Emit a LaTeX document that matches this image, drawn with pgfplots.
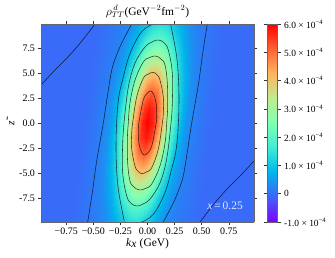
\documentclass[border=0pt]{standalone}
\usepackage{pgfplots}
\pgfplotsset{compat=1.18}
\usepackage{fontspec}
\setmainfont{Liberation Serif}
\pgfplotstableread{
k z c
-1.426 -10.5 0
-0.926 -10.5 -0.03
-0.726 -10.5 -0.03
-0.626 -10.5 0.05
-0.526 -10.5 0.13
-0.476 -10.5 0.17
-0.426 -10.5 0.25
-0.376 -10.5 0.37
-0.326 -10.5 0.53
-0.276 -10.5 0.73
-0.226 -10.5 0.93
-0.176 -10.5 1.09
-0.126 -10.5 1.14
-0.076 -10.5 1.09
-0.026 -10.5 0.93
0.024 -10.5 0.73
0.074 -10.5 0.53
0.124 -10.5 0.37
0.174 -10.5 0.25
0.224 -10.5 0.17
0.274 -10.5 0.13
0.374 -10.5 0.05
0.474 -10.5 -0.03
0.674 -10.5 -0.03
1.174 -10.5 0
-1.408 -9 0
-0.908 -9 -0.03
-0.708 -9 -0.03
-0.608 -9 0.05
-0.508 -9 0.14
-0.458 -9 0.21
-0.408 -9 0.33
-0.358 -9 0.51
-0.308 -9 0.77
-0.258 -9 1.09
-0.208 -9 1.41
-0.158 -9 1.65
-0.108 -9 1.74
-0.058 -9 1.65
-0.008 -9 1.41
0.042 -9 1.09
0.092 -9 0.77
0.142 -9 0.51
0.192 -9 0.33
0.242 -9 0.21
0.292 -9 0.14
0.392 -9 0.05
0.492 -9 -0.03
0.692 -9 -0.03
1.192 -9 0
-1.39 -7.5 0
-0.89 -7.5 -0.03
-0.69 -7.5 -0.03
-0.59 -7.5 0.06
-0.49 -7.5 0.16
-0.44 -7.5 0.26
-0.39 -7.5 0.42
-0.34 -7.5 0.70
-0.29 -7.5 1.08
-0.24 -7.5 1.56
-0.19 -7.5 2.02
-0.14 -7.5 2.38
-0.09 -7.5 2.51
-0.04 -7.5 2.38
0.01 -7.5 2.02
0.06 -7.5 1.56
0.11 -7.5 1.08
0.16 -7.5 0.70
0.21 -7.5 0.42
0.26 -7.5 0.26
0.31 -7.5 0.16
0.41 -7.5 0.06
0.51 -7.5 -0.03
0.71 -7.5 -0.03
1.21 -7.5 0
-1.372 -6 0
-0.872 -6 -0.03
-0.672 -6 -0.03
-0.572 -6 0.06
-0.472 -6 0.19
-0.422 -6 0.31
-0.372 -6 0.54
-0.322 -6 0.92
-0.272 -6 1.45
-0.222 -6 2.10
-0.172 -6 2.75
-0.122 -6 3.24
-0.072 -6 3.42
-0.022 -6 3.24
0.028 -6 2.75
0.078 -6 2.10
0.128 -6 1.45
0.178 -6 0.92
0.228 -6 0.54
0.278 -6 0.31
0.328 -6 0.19
0.428 -6 0.06
0.528 -6 -0.03
0.728 -6 -0.03
1.228 -6 0
-1.354 -4.5 0
-0.854 -4.5 -0.03
-0.654 -4.5 -0.03
-0.554 -4.5 0.06
-0.454 -4.5 0.21
-0.404 -4.5 0.37
-0.354 -4.5 0.66
-0.304 -4.5 1.15
-0.254 -4.5 1.83
-0.204 -4.5 2.67
-0.154 -4.5 3.50
-0.104 -4.5 4.14
-0.054 -4.5 4.37
-0.004 -4.5 4.14
0.046 -4.5 3.50
0.096 -4.5 2.67
0.146 -4.5 1.83
0.196 -4.5 1.15
0.246 -4.5 0.66
0.296 -4.5 0.37
0.346 -4.5 0.21
0.446 -4.5 0.06
0.546 -4.5 -0.03
0.746 -4.5 -0.03
1.246 -4.5 0
-1.336 -3 0
-0.836 -3 -0.03
-0.636 -3 -0.03
-0.536 -3 0.07
-0.436 -3 0.23
-0.386 -3 0.42
-0.336 -3 0.77
-0.286 -3 1.35
-0.236 -3 2.17
-0.186 -3 3.18
-0.136 -3 4.17
-0.086 -3 4.93
-0.036 -3 5.21
0.014 -3 4.93
0.064 -3 4.17
0.114 -3 3.18
0.164 -3 2.17
0.214 -3 1.35
0.264 -3 0.77
0.314 -3 0.42
0.364 -3 0.23
0.464 -3 0.07
0.564 -3 -0.03
0.764 -3 -0.03
1.264 -3 0
-1.318 -1.5 0
-0.818 -1.5 -0.03
-0.618 -1.5 -0.03
-0.518 -1.5 0.07
-0.418 -1.5 0.25
-0.368 -1.5 0.46
-0.318 -1.5 0.85
-0.268 -1.5 1.49
-0.218 -1.5 2.40
-0.168 -1.5 3.52
-0.118 -1.5 4.64
-0.068 -1.5 5.48
-0.018 -1.5 5.79
0.032 -1.5 5.48
0.082 -1.5 4.64
0.132 -1.5 3.52
0.182 -1.5 2.40
0.232 -1.5 1.49
0.282 -1.5 0.85
0.332 -1.5 0.46
0.382 -1.5 0.25
0.482 -1.5 0.07
0.582 -1.5 -0.03
0.782 -1.5 -0.03
1.282 -1.5 0
-1.3 0 0
-0.8 0 -0.03
-0.6 0 -0.03
-0.5 0 0.07
-0.4 0 0.25
-0.35 0 0.47
-0.3 0 0.87
-0.25 0 1.55
-0.2 0 2.49
-0.15 0 3.65
-0.1 0 4.80
-0.05 0 5.68
0 0 6.00
0.05 0 5.68
0.1 0 4.80
0.15 0 3.65
0.2 0 2.49
0.25 0 1.55
0.3 0 0.87
0.35 0 0.47
0.4 0 0.25
0.5 0 0.07
0.6 0 -0.03
0.8 0 -0.03
1.3 0 0
-1.282 1.5 0
-0.782 1.5 -0.03
-0.582 1.5 -0.03
-0.482 1.5 0.07
-0.382 1.5 0.25
-0.332 1.5 0.46
-0.282 1.5 0.85
-0.232 1.5 1.49
-0.182 1.5 2.40
-0.132 1.5 3.52
-0.082 1.5 4.64
-0.032 1.5 5.48
0.018 1.5 5.79
0.068 1.5 5.48
0.118 1.5 4.64
0.168 1.5 3.52
0.218 1.5 2.40
0.268 1.5 1.49
0.318 1.5 0.85
0.368 1.5 0.46
0.418 1.5 0.25
0.518 1.5 0.07
0.618 1.5 -0.03
0.818 1.5 -0.03
1.318 1.5 0
-1.264 3 0
-0.764 3 -0.03
-0.564 3 -0.03
-0.464 3 0.07
-0.364 3 0.23
-0.314 3 0.42
-0.264 3 0.77
-0.214 3 1.35
-0.164 3 2.17
-0.114 3 3.18
-0.064 3 4.17
-0.014 3 4.93
0.036 3 5.21
0.086 3 4.93
0.136 3 4.17
0.186 3 3.18
0.236 3 2.17
0.286 3 1.35
0.336 3 0.77
0.386 3 0.42
0.436 3 0.23
0.536 3 0.07
0.636 3 -0.03
0.836 3 -0.03
1.336 3 0
-1.246 4.5 0
-0.746 4.5 -0.03
-0.546 4.5 -0.03
-0.446 4.5 0.06
-0.346 4.5 0.21
-0.296 4.5 0.37
-0.246 4.5 0.66
-0.196 4.5 1.15
-0.146 4.5 1.83
-0.096 4.5 2.67
-0.046 4.5 3.50
0.004 4.5 4.14
0.054 4.5 4.37
0.104 4.5 4.14
0.154 4.5 3.50
0.204 4.5 2.67
0.254 4.5 1.83
0.304 4.5 1.15
0.354 4.5 0.66
0.404 4.5 0.37
0.454 4.5 0.21
0.554 4.5 0.06
0.654 4.5 -0.03
0.854 4.5 -0.03
1.354 4.5 0
-1.228 6 0
-0.728 6 -0.03
-0.528 6 -0.03
-0.428 6 0.06
-0.328 6 0.19
-0.278 6 0.31
-0.228 6 0.54
-0.178 6 0.92
-0.128 6 1.45
-0.078 6 2.10
-0.028 6 2.75
0.022 6 3.24
0.072 6 3.42
0.122 6 3.24
0.172 6 2.75
0.222 6 2.10
0.272 6 1.45
0.322 6 0.92
0.372 6 0.54
0.422 6 0.31
0.472 6 0.19
0.572 6 0.06
0.672 6 -0.03
0.872 6 -0.03
1.372 6 0
-1.21 7.5 0
-0.71 7.5 -0.03
-0.51 7.5 -0.03
-0.41 7.5 0.06
-0.31 7.5 0.16
-0.26 7.5 0.26
-0.21 7.5 0.42
-0.16 7.5 0.70
-0.11 7.5 1.08
-0.06 7.5 1.56
-0.01 7.5 2.02
0.04 7.5 2.38
0.09 7.5 2.51
0.14 7.5 2.38
0.19 7.5 2.02
0.24 7.5 1.56
0.29 7.5 1.08
0.34 7.5 0.70
0.39 7.5 0.42
0.44 7.5 0.26
0.49 7.5 0.16
0.59 7.5 0.06
0.69 7.5 -0.03
0.89 7.5 -0.03
1.39 7.5 0
-1.192 9 0
-0.692 9 -0.03
-0.492 9 -0.03
-0.392 9 0.05
-0.292 9 0.14
-0.242 9 0.21
-0.192 9 0.33
-0.142 9 0.51
-0.092 9 0.77
-0.042 9 1.09
0.008 9 1.41
0.058 9 1.65
0.108 9 1.74
0.158 9 1.65
0.208 9 1.41
0.258 9 1.09
0.308 9 0.77
0.358 9 0.51
0.408 9 0.33
0.458 9 0.21
0.508 9 0.14
0.608 9 0.05
0.708 9 -0.03
0.908 9 -0.03
1.408 9 0
-1.174 10.5 0
-0.674 10.5 -0.03
-0.474 10.5 -0.03
-0.374 10.5 0.05
-0.274 10.5 0.13
-0.224 10.5 0.17
-0.174 10.5 0.25
-0.124 10.5 0.37
-0.074 10.5 0.53
-0.024 10.5 0.73
0.026 10.5 0.93
0.076 10.5 1.09
0.126 10.5 1.14
0.176 10.5 1.09
0.226 10.5 0.93
0.276 10.5 0.73
0.326 10.5 0.53
0.376 10.5 0.37
0.426 10.5 0.25
0.476 10.5 0.17
0.526 10.5 0.13
0.626 10.5 0.05
0.726 10.5 -0.03
0.926 10.5 -0.03
1.426 10.5 0
}\density
\begin{document}
\begin{tikzpicture}
\useasboundingbox (-41bp,-36bp) rectangle (294bp,222bp);
\begin{axis}[
  at={(0,0)},anchor=south west,
  scale only axis,width=213bp,height=198bp,
  xmin=-0.983,xmax=0.983,ymin=-9.9,ymax=9.9,zmin=-1,zmax=7,
  view={0}{90},
  axis line style={draw=black!60,line width=0.9pt},
  tick style={draw=black!80,line width=0.5pt},
  tick align=outside,major tick length=3bp,
  xtick={-0.75,-0.5,-0.25,0,0.25,0.5,0.75},
  xticklabels={−0.75,−0.50,−0.25,0.00,0.25,0.50,0.75},
  ytick={-7.5,-5,-2.5,0,2.5,5,7.5},
  yticklabels={-7.5,-5.0,-2.5,0.0,2.5,5.0,7.5},
  tick label style={font=\fontsize{10}{11}\selectfont},
  xticklabel style={yshift=0.5bp},
  yticklabel style={xshift=0.5bp},
  xlabel={\textit{k}$_{\textit{x}}$ (GeV)},
  xlabel style={yshift=3.5bp},
  ylabel={\~{\textit{z}}},
  ylabel style={yshift=-2bp},
  label style={font=\fontsize{11.5}{12}\selectfont},
  title={$\rho_{TT}^{\,d}$(GeV$^{-2}$fm$^{-2}$)},
  title style={font=\fontsize{11.5}{12}\selectfont,yshift=-3.5bp},
  point meta min=-1,point meta max=6,
  colormap={rb}{rgb=(0.5,0,1) rgb=(0.25,0.383,0.981) rgb=(0,0.707,0.924) rgb=(0.25,0.924,0.831) rgb=(0.5,1,0.707) rgb=(0.75,0.924,0.556) rgb=(1,0.707,0.383) rgb=(1,0.383,0.195) rgb=(1,0,0)},
  colorbar,
  colorbar style={at={(1.0624,1)},anchor=north west,width=10.4bp,height=198bp,scale only axis,
    ytick={-1,0,1,2,3,4,5,6},
    yticklabels={-1.0 × 10\textsuperscript{−4},0,1.0 × 10\textsuperscript{−4},2.0 × 10\textsuperscript{−4},3.0 × 10\textsuperscript{−4},4.0 × 10\textsuperscript{−4},5.0 × 10\textsuperscript{−4},6.0 × 10\textsuperscript{−4}},
    yticklabel style={font=\fontsize{9.5}{10}\selectfont},
    tick align=outside,major tick length=3bp,
    axis line style={draw=black!60,line width=0.9pt}},
  cl/.style={black,opacity=0.75,line width=0.55pt,smooth,tension=0.6,no markers,forget plot},
]
\addplot3[surf,shader=interp,mesh/rows=15] table[x=k,y=z,z=c]{\density};
% contours
\addplot3[cl] coordinates {(-0.983,3.8,7) (-0.854,5.3,7) (-0.746,6.47,7) (-0.623,7.97,7) (-0.485,9.9,7)};
\addplot3[cl] coordinates {(0.983,-3.8,7) (0.854,-5.3,7) (0.746,-6.47,7) (0.623,-7.97,7) (0.485,-9.9,7)};
\addplot3[cl] coordinates {(-0.552,-9.9,7) (-0.51,-7,7) (-0.469,-3.8,7) (-0.408,0,7) (-0.37,2.7,7) (-0.33,5.3,7) (-0.285,6.8,7) (-0.238,8,7) (-0.19,9,7) (-0.146,9.9,7)};
\addplot3[cl] coordinates {(0.552,9.9,7) (0.51,7,7) (0.469,3.8,7) (0.408,0,7) (0.37,-2.7,7) (0.33,-5.3,7) (0.285,-6.8,7) (0.238,-8,7) (0.19,-9,7) (0.146,-9.9,7)};
\addplot3[cl] coordinates {(0.054,9.9,7) (-0.054,9.13,7) (-0.16,7,7) (-0.223,4.6,7) (-0.265,2.6,7) (-0.285,0,7) (-0.29,-3.2,7) (-0.27,-6.57,7) (-0.214,-9.83,7)};
\addplot3[cl] coordinates {(-0.054,-9.9,7) (0.054,-9.13,7) (0.16,-7,7) (0.223,-4.6,7) (0.265,-2.6,7) (0.285,0,7) (0.29,3.2,7) (0.27,6.57,7) (0.214,9.83,7)};
\addplot3[cl] coordinates {(-0.217,0,7) (-0.229,-2,7) (-0.229,-5,7) (-0.192,-7.3,7) (-0.15,-8.05,7) (-0.10,-8.3,7) (-0.05,-8.15,7) (0.023,-7.6,7) (0.115,-6,7) (0.177,-3.6,7) (0.217,0,7) (0.229,2,7) (0.229,5,7) (0.192,7.3,7) (0.15,8.05,7) (0.10,8.3,7) (0.05,8.15,7) (-0.023,7.6,7) (-0.115,6,7) (-0.177,3.6,7) (-0.217,0,7)};
\addplot3[cl] coordinates {(-0.177,0,7) (-0.186,-1.6,7) (-0.183,-4,7) (-0.162,-5.8,7) (-0.125,-6.4,7) (-0.075,-6.7,7) (-0.02,-6.55,7) (0.039,-6.1,7) (0.115,-4.3,7) (0.162,-2,7) (0.177,0,7) (0.186,1.6,7) (0.183,4,7) (0.162,5.8,7) (0.125,6.4,7) (0.075,6.7,7) (0.02,6.55,7) (-0.039,6.1,7) (-0.115,4.3,7) (-0.162,2,7) (-0.177,0,7)};
\addplot3[cl] coordinates {(-0.137,0,7) (-0.146,-1,7) (-0.146,-2.6,7) (-0.115,-4.3,7) (-0.09,-4.8,7) (-0.054,-5.07,7) (-0.01,-4.9,7) (0.039,-4.47,7) (0.1,-2.6,7) (0.137,0,7) (0.146,1,7) (0.146,2.6,7) (0.115,4.3,7) (0.09,4.8,7) (0.054,5.07,7) (0.01,4.9,7) (-0.039,4.47,7) (-0.1,2.6,7) (-0.137,0,7)};
\addplot3[cl] coordinates {(-0.08,0,7) (-0.085,-0.9,7) (-0.078,-2.1,7) (-0.055,-2.9,7) (-0.03,-3.2,7) (0,-3,7) (0.039,-2.3,7) (0.08,0,7) (0.085,0.9,7) (0.078,2.1,7) (0.055,2.9,7) (0.03,3.2,7) (0,3,7) (-0.039,2.3,7) (-0.08,0,7)};
\node[white,opacity=0.85,font=\fontsize{11.5}{12}\selectfont] at (axis cs:0.716,-8.27,7) {\textit{x}\,=\,0.25};
\end{axis}
\end{tikzpicture}
\end{document}
